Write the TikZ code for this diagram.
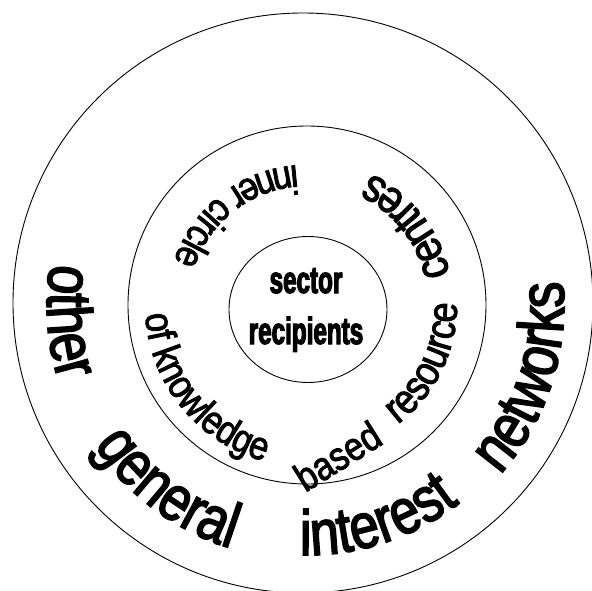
\documentclass[tikz,border=0pt]{standalone}
\usepackage{fontspec}
\setmainfont{Liberation Sans}
\newfontfamily\ringfont[FakeStretch=0.82,FakeBold=2.5]{Liberation Sans}
\newfontfamily\midfont[FakeStretch=0.86,FakeBold=2.2]{Liberation Sans}
\newfontfamily\corefont[FakeStretch=0.64,FakeBold=3]{Liberation Sans Bold}
\usetikzlibrary{decorations.text}
\tikzset{
  ring/.style={draw=black, line width=0.9bp},
  core/.style={font=\corefont\fontsize{38}{38}\selectfont, inner sep=0pt}
}
% #1 baseline radius (bp), #2 centre angle, #3 font command, #4 size, #5 text
\newcommand\arcword[5]{%
  \path[decorate, decoration={text along path, text align=center,
        text={|#3\fontsize{#4}{#4}\selectfont|#5}}]
    ({#2-80}:#1bp) arc[start angle={#2-80}, end angle={#2+80}, radius=#1bp];
}
\begin{document}
\begin{tikzpicture}
\useasboundingbox (-307bp,-286bp) rectangle (285bp,305bp);
% circles
\draw[ring] (-4bp,2bp) circle[radius=290bp];
\draw[ring] (0bp,0bp) circle[radius=179bp];
\draw[ring] (1bp,-4.5bp) ellipse[x radius=79bp, y radius=73bp];
% core text
\node[core, anchor=base] (sector) at (-1bp,12bp) {sector};
\node[core, anchor=base] (recip) at (-1bp,-39bp) {recipients};
% middle ring
\arcword{140}{128}{\midfont}{40}{inner circle}
\arcword{162}{219}{\midfont}{40}{of knowledge}
\node[font=\midfont\fontsize{40}{40}\selectfont, rotate=32, inner sep=0pt, anchor=base] (based) at (38bp,-163bp) {based};
\arcword{150}{334}{\midfont}{42}{resource}
\arcword{146}{38}{\midfont}{47}{centres}
% outer ring
\arcword{260}{184}{\ringfont}{64}{other}
\arcword{255}{233}{\ringfont}{64}{general}
\arcword{250}{288}{\ringfont}{64}{interest}
\arcword{257}{342}{\ringfont}{64}{networks}
\end{tikzpicture}
\end{document}
